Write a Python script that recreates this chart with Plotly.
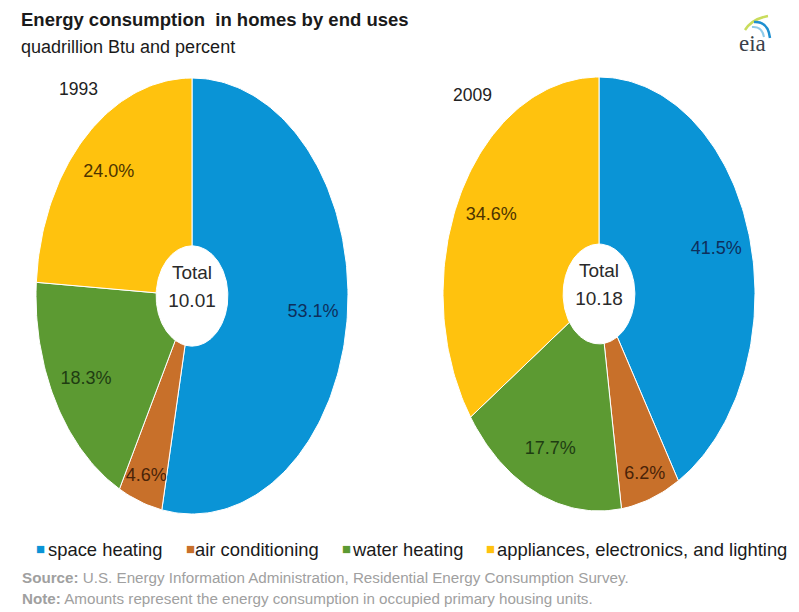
import numpy as np
import plotly.graph_objects as go

# ---- data ----
categories = ["space heating", "air conditioning", "water heating",
              "appliances, electronics, and lighting"]
years = ["1993", "2009"]
shares_1993 = [53.1, 4.6, 18.3, 24.0]
shares_2009 = [41.5, 6.2, 17.7, 34.6]
totals = [10.01, 10.18]

# ---- style ----
colors = ["#0A94D6", "#C8702A", "#5C9A32", "#FFC20E"]
label_colors = ["#0E2F5C", "#4A2308", "#1F3D12", "#4D3400"]
FONT = "Liberation Sans, Arial, sans-serif"
OFF = 8                      # page body margin of the html page
W, H = 799 - OFF, 612 - OFF
HOLE = 0.23
PAD = 1.04

# pie geometry in reference pixels (centre x, centre y, radius x, radius y)
geoms = [(192, 296, 156, 218), (599, 294, 156, 217)]

fig = go.Figure()


def px_x(p):
    return (p - OFF) / W


def px_y(p):
    return 1 - (p - OFF) / H


for i, (shares, (cx, cy, rx, ry)) in enumerate(zip([shares_1993, shares_2009], geoms)):
    xa = "x" if i == 0 else "x2"
    ya = "y" if i == 0 else "y2"
    tot = sum(shares)
    start = 0.0
    lx, ly, lt, lc = [], [], [], []
    for j, v in enumerate(shares):
        a0 = start / tot * 2 * np.pi
        a1 = (start + v) / tot * 2 * np.pi
        t = np.linspace(a0, a1, max(int(v * 3), 8))
        xo, yo = np.sin(t), np.cos(t)
        xi, yi = HOLE * np.sin(t[::-1]), HOLE * np.cos(t[::-1])
        xs = np.concatenate([xo, xi, xo[:1]])
        ys = np.concatenate([yo, yi, yo[:1]])
        fig.add_trace(go.Scatter(
            x=xs, y=ys, xaxis=xa, yaxis=ya, mode="lines", fill="toself",
            fillcolor=colors[j], line=dict(color="white", width=1),
            name=categories[j], showlegend=False, hoverinfo="name"))
        am = (a0 + a1) / 2
        r = 0.88 if v < 10 else 0.78
        lx.append(r * np.sin(am))
        ly.append(r * np.cos(am))
        lt.append(f"{v:.1f}%")
        lc.append(label_colors[j])
        start += v
    fig.add_trace(go.Scatter(
        x=lx, y=ly, xaxis=xa, yaxis=ya, mode="text", text=lt,
        textfont=dict(family=FONT, size=18, color=lc),
        showlegend=False, hoverinfo="skip"))
    fig.add_trace(go.Scatter(
        x=[0, 0], y=[0.10, -0.03], xaxis=xa, yaxis=ya, mode="text",
        text=["Total", f"{totals[i]:.2f}"],
        textfont=dict(family=FONT, size=19, color="#2a2a2a"),
        showlegend=False, hoverinfo="skip"))
    dom_x = [px_x(cx - rx * PAD), px_x(cx + rx * PAD)]
    dom_y = [px_y(cy + ry * PAD), px_y(cy - ry * PAD)]
    axkey = "xaxis" if i == 0 else "xaxis2"
    aykey = "yaxis" if i == 0 else "yaxis2"
    fig.update_layout({
        axkey: dict(domain=dom_x, range=[-PAD, PAD], visible=False,
                    fixedrange=True, anchor=ya),
        aykey: dict(domain=dom_y, range=[-PAD, PAD], visible=False,
                    fixedrange=True, anchor=xa),
    })

annotations = []


def note(text, x, y, size, color="#1a1a1a", anchor="left", family=FONT):
    annotations.append(dict(text=text, x=px_x(x), y=px_y(y), xref="paper",
                            yref="paper", xanchor=anchor, yanchor="middle",
                            showarrow=False, borderpad=0,
                            font=dict(family=family, size=size, color=color)))


# title and subtitle
note("<b>Energy consumption  in homes by end uses</b>", 20, 20, 18.5)
note("quadrillion Btu and percent", 20, 47, 18)
# year labels
for yr, (xx, yy) in zip(years, [(78, 89), (472, 95)]):
    note(yr, xx, yy, 17.5, "#222222", anchor="center")
# legend: square marker + label
sq_x = [40, 190, 346, 491]
txt_x = [47, 194, 351, 496]
for j, cat in enumerate(categories):
    note("■", sq_x[j], 548, 15, colors[j], anchor="center")
    note(cat, txt_x[j], 549, 18.4)
# source / note
note("<b>Source:</b> U.S. Energy Information Administration, Residential Energy Consumption Survey.",
     21, 577, 15.2, "#A0A0A0")
note("<b>Note:</b> Amounts represent the energy consumption in occupied primary housing units.",
     21, 598, 15.2, "#A0A0A0")
# eia logo text
note("eia", 752, 44, 23, "#3a3f4a", anchor="center",
     family="Liberation Serif, serif")


def ppath(pts):
    (x0, y0), (x1, y1), (x2, y2) = pts
    return (f"M {px_x(x0)} {px_y(y0)} Q {px_x(x1)} {px_y(y1)} "
            f"{px_x(x2)} {px_y(y2)}")


shapes = [
    dict(type="path", xref="paper", yref="paper",
         path=ppath([(745, 30), (752, 19), (768, 16)]),
         line=dict(color="#C9DC5C", width=2.5)),
    dict(type="path", xref="paper", yref="paper",
         path=ppath([(754, 22), (768, 21), (770, 38)]),
         line=dict(color="#1E8FD0", width=2.5)),
    dict(type="path", xref="paper", yref="paper",
         path=ppath([(752, 27), (762, 26), (764, 37)]),
         line=dict(color="#8FCBEA", width=2)),
]

fig.update_layout(
    width=W, height=H, margin=dict(l=0, r=0, t=0, b=0),
    paper_bgcolor="white", plot_bgcolor="white",
    annotations=annotations, shapes=shapes, showlegend=False,
)

fig.write_html("out.html")
